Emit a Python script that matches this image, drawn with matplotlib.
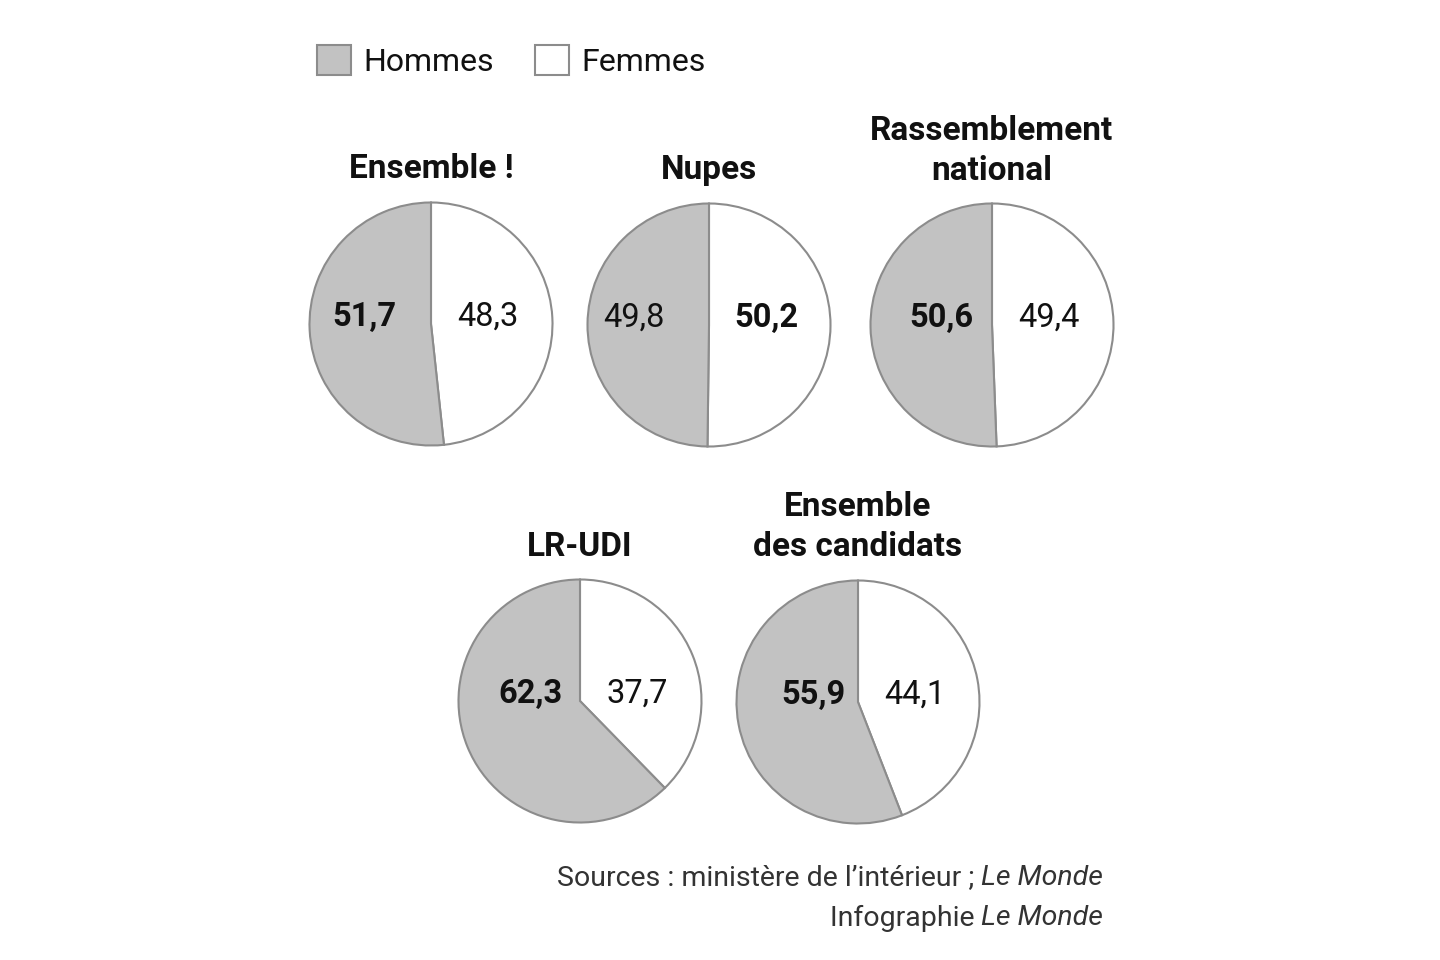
import matplotlib
matplotlib.use("Agg")
import matplotlib.pyplot as plt
from matplotlib.patches import Patch

plt.rcParams['font.family'] = ['Roboto', 'DejaVu Sans']

# data
parties = ["Ensemble !", "Nupes", "Rassemblement\nnational", "LR-UDI", "Ensemble\ndes candidats"]
hommes = [51.7, 49.8, 50.6, 62.3, 55.9]
femmes = [48.3, 50.2, 49.4, 37.7, 44.1]
legend_labels = ["Hommes", "Femmes"]
source_txt = "Sources : ministère de l\u2019intérieur ; "
credit_txt = "Infographie "
journal = "Le Monde"

# layout (pixels, from top-left)
W, H = 1440, 960
centers = [(431, 324), (709, 325), (992, 325), (580, 701), (858, 702)]
left_off = [-0.55, -0.62, -0.42, -0.41, -0.37]
R = 121.5

GRAY = '#c2c2c2'
EDGE = '#8c8c8c'

fig = plt.figure(figsize=(14.4, 9.6), dpi=100)

def fmt(v):
    return f"{v:.1f}".replace(".", ",")

for i, (cx, cy) in enumerate(centers):
    half = R * 1.04
    ax = fig.add_axes([(cx - half) / W, (H - cy - half) / H, 2 * half / W, 2 * half / H])
    ax.pie([femmes[i], hommes[i]], colors=['white', GRAY], startangle=90,
           counterclock=False, radius=1,
           wedgeprops=dict(edgecolor=EDGE, linewidth=1.5))
    ax.set_xlim(-1.04, 1.04)
    ax.set_ylim(-1.04, 1.04)
    ax.axis('off')
    hw = 'bold' if hommes[i] > femmes[i] else 'normal'
    fw = 'bold' if femmes[i] > hommes[i] else 'normal'
    ax.text(left_off[i], 0.06, fmt(hommes[i]), ha='center', va='center',
            fontsize=23.5, fontweight=hw, color='#111111')
    ax.text(0.47, 0.06, fmt(femmes[i]), ha='center', va='center',
            fontsize=23.5, fontweight=fw, color='#111111')
    fig.text(cx / W, (H - cy + R + 17) / H, parties[i], ha='center', va='bottom',
             fontsize=24, fontweight='bold', color='#111111', linespacing=1.32)

# legend
handles = [Patch(facecolor=GRAY, edgecolor='#8c8c8c', linewidth=1.5),
           Patch(facecolor='white', edgecolor='#8c8c8c', linewidth=1.5)]
fig.legend(handles, legend_labels, loc='upper left', bbox_to_anchor=(317 / W, 1 - 45 / H),
           ncol=2, frameon=False, handlelength=1.05, handleheight=1.05,
           handletextpad=0.4, columnspacing=1.3, labelcolor='#111111',
           borderpad=0, borderaxespad=0, prop={'size': 23})

# source / credit, right aligned with italic journal name
fig.canvas.draw()
renderer = fig.canvas.get_renderer()
xr = 1103 / W
for txt, yy in [(source_txt, 878), (credit_txt, 918)]:
    t_it = fig.text(xr, 1 - yy / H, journal, ha='right', va='center', fontsize=20.5,
                    style='italic', color='#333333')
    bb = t_it.get_window_extent(renderer=renderer)
    fig.text(bb.x0 / W, 1 - yy / H, txt, ha='right', va='center', fontsize=20.5,
             color='#333333')

fig.savefig("out.png", dpi=100, facecolor='white')
